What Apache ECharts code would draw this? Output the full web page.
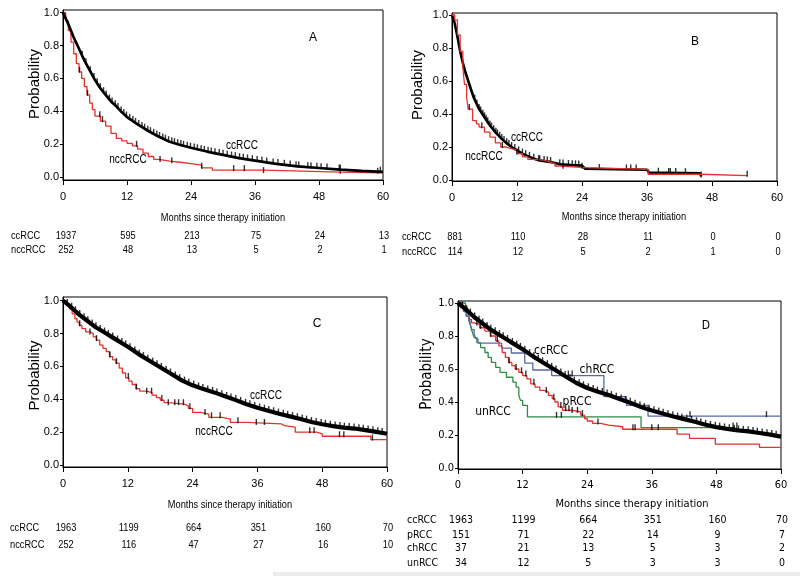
<!DOCTYPE html>
<html><head><meta charset="utf-8">
<script src="https://cdn.jsdelivr.net/npm/echarts@6/dist/echarts.min.js"></script>
<style>html,body{margin:0;padding:0;background:#fff}#c{width:800px;height:576px}</style>
</head><body><div id="c"></div>
<script>
// ---------- axis ticks ----------
const xTicks = [0, 12, 24, 36, 48, 60];
const yTicks = [0, 0.2, 0.4, 0.6, 0.8, 1.0];

// ---------- Panel A ----------
const A_cc = [[0,1],[1,0.93],[2,0.85],[3,0.78],[4,0.71],[5,0.65],[6,0.59],[7,0.54],[8,0.5],[9,0.46],[10,0.43],[11,0.395],[12,0.365],[14,0.32],[16,0.28],[18,0.245],[20,0.215],[22,0.195],[24,0.178],[27,0.155],[30,0.135],[33,0.115],[36,0.1],[40,0.08],[44,0.065],[48,0.055],[52,0.045],[56,0.037],[60,0.032]];
const A_ncc = [[0,1],[0.5,0.95],[1,0.89],[1.5,0.82],[2,0.75],[2.5,0.69],[3,0.64],[3.5,0.6],[4,0.55],[4.5,0.5],[5,0.45],[5.5,0.41],[6,0.37],[7,0.34],[8,0.31],[9,0.265],[10,0.235],[11,0.22],[12,0.205],[13,0.19],[14,0.17],[15,0.145],[16,0.125],[17,0.108],[18,0.097],[20,0.09],[22,0.082],[24,0.072],[26,0.056],[28,0.042],[37.6,0.03],[52,0.026],[60,0.026]];
const A_cc_cens = [3.6,4.3,5.1,5.8,6.4,7.0,7.6,8.1,8.7,9.2,9.8,10.3,10.9,11.4,11.9,12.5,13.1,13.6,14.2,14.8,15.3,15.9,16.4,17.0,17.6,18.1,18.7,19.2,19.8,20.4,20.9,21.5,22.1,22.6,23.3,23.9,24.6,25.2,25.9,26.5,27.2,27.8,28.5,29.3,30.0,30.8,31.6,32.3,33.1,33.8,34.6,35.5,36.4,37.3,38.2,39.4,40.3,41.5,42.6,43.7,44.2,45.9,46.5,47.6,48.4,49.5,51.8,52.0,59.5];
const A_ncc_cens = [3.1,4.6,6.9,7.4,13.8,18.2,20.4,26,32,34,37.6,52,59];
const A_risk_cc = [1937, 595, 213, 75, 24, 13];
const A_risk_ncc = [252, 48, 13, 5, 2, 1];

// ---------- Panel B ----------
const B_cc = [[0,1],[0.5,0.95],[1,0.87],[1.5,0.78],[2,0.71],[2.5,0.65],[3,0.6],[3.5,0.55],[4,0.5],[5,0.43],[6,0.38],[7,0.33],[8,0.29],[9,0.255],[10,0.225],[11,0.2],[12,0.18],[13,0.16],[14,0.145],[15,0.13],[16,0.12],[18,0.11],[20,0.095],[22,0.09],[24,0.087],[24.6,0.068],[36,0.062],[36.4,0.045],[45.8,0.04],[46,0.022]];
const B_ncc = [[0,1],[0.5,0.97],[1,0.88],[1.5,0.78],[2,0.68],[2.3,0.58],[2.7,0.5],[3,0.43],[3.8,0.36],[4.5,0.34],[5,0.32],[6,0.29],[7,0.26],[8,0.225],[9,0.2],[10,0.19],[11,0.18],[12,0.16],[13,0.14],[14,0.125],[15,0.12],[17,0.11],[18,0.1],[19,0.085],[20,0.075],[24.5,0.065],[36.2,0.035],[46,0.026],[54.5,0.026]];
const B_cc_cens = [4.2,4.6,5,5.3,5.7,6,6.3,6.6,7,7.3,7.7,8.1,8.4,8.8,9.2,9.6,10.1,10.5,11,11.6,12.3,13,13.6,14.3,15.1,16.2,17,17.6,18.2,19.9,20.5,21.5,22.2,22.8,23.4,27.2,32.2,33,34,38.1,40,40.3,41.3,43.1,46];
const B_ncc_cens = [3.2,5.5,9.3,12,16,20.5,24,54.5];
const B_risk_cc = [881, 110, 28, 11, 0, 0];
const B_risk_ncc = [114, 12, 5, 2, 1, 0];

// ---------- Panel C / D (ccRCC full cohort) ----------
const C_cc = [[0,1],[1,0.975],[2,0.945],[3,0.915],[4,0.89],[5,0.865],[6,0.84],[7,0.82],[8,0.8],[9,0.78],[10,0.76],[11,0.74],[12,0.72],[14,0.675],[16,0.635],[18,0.595],[20,0.555],[22,0.515],[24,0.485],[26,0.462],[28,0.442],[30,0.418],[32,0.395],[34,0.37],[36,0.348],[38,0.33],[40,0.312],[42,0.296],[44,0.28],[46,0.262],[48,0.248],[50,0.237],[52,0.228],[54,0.222],[56,0.212],[58,0.202],[60,0.19]];
const C_cc_cens = [0.8,1.6,2.3,3.1,3.9,4.6,5.4,6.1,6.9,7.7,8.4,9.2,10.1,10.9,11.6,12.4,13.3,14.1,14.9,15.7,16.6,17.4,18.2,19.1,19.9,20.8,21.6,22.5,23.3,24.2,25.1,25.9,26.8,27.7,28.5,29.4,30.3,31.1,32.0,32.9,33.8,34.6,35.5,36.4,37.3,38.1,39.0,39.9,40.8,41.6,42.5,43.4,44.3,45.1,46.0,46.9,47.8,48.6,49.5,50.4,51.3,52.1,53.0,53.9,54.8,55.6,56.5,57.4,58.3,59.1];
const C_ncc = [[0,1],[0.7,0.97],[1.2,0.95],[1.7,0.92],[2.2,0.89],[2.6,0.87],[3,0.85],[3.5,0.83],[4.2,0.81],[5,0.8],[5.6,0.78],[6.2,0.76],[6.8,0.73],[7.4,0.71],[8,0.69],[8.6,0.66],[9.2,0.64],[9.8,0.62],[10.4,0.59],[11,0.56],[11.6,0.53],[12.2,0.51],[12.8,0.49],[13.5,0.465],[14.2,0.45],[15.5,0.44],[16.5,0.425],[17.3,0.41],[18,0.395],[18.7,0.38],[19.5,0.37],[22.5,0.36],[23.2,0.345],[24,0.32],[25.5,0.31],[27,0.29],[29.5,0.28],[31,0.26],[34,0.25],[40.5,0.24],[41,0.23],[43,0.2],[47,0.19],[48,0.175],[57,0.155],[60,0.155]];
const C_ncc_cens = [3.1,5,6.2,8.7,9.9,12.1,13.6,15.5,16.4,18.3,19.5,20.7,21.4,22.3,23.5,26.3,27.5,29.1,32.4,35.8,37.3,45.7,46.5,51.2,52,57.3];
const C_risk_cc = [1963, 1199, 664, 351, 160, 70];
const C_risk_ncc = [252, 116, 47, 27, 16, 10];

// ---------- Panel D ----------
const D_p = [[0,1],[0.5,0.97],[1,0.95],[1.5,0.92],[2,0.9],[2.5,0.88],[3,0.87],[4,0.85],[5,0.83],[6,0.8],[7,0.77],[7.6,0.74],[8.2,0.7],[8.8,0.67],[9.4,0.64],[10,0.62],[10.6,0.6],[11.3,0.58],[12,0.56],[12.8,0.54],[13.5,0.51],[14.3,0.49],[15.2,0.47],[16,0.46],[16.8,0.44],[17.5,0.42],[18,0.4],[18.6,0.37],[19.4,0.35],[21,0.34],[22.8,0.32],[23.5,0.3],[24,0.285],[25,0.27],[26.5,0.26],[28,0.25],[30.6,0.235],[40.7,0.205],[43,0.18],[47.8,0.145],[56,0.125],[60,0.125]];
const D_p_cens = [3.5,4.2,6.1,7.3,9.5,10.8,11.8,12.6,14.1,16.4,17.8,19.1,20,20.6,21.2,22.2,23.1,26,32.5,32.9,36,37.2];
const D_ch = [[0,1],[0.6,0.973],[1.2,0.946],[1.6,0.919],[2,0.892],[2.3,0.865],[2.6,0.838],[3,0.811],[3.3,0.784],[3.7,0.757],[8.1,0.727],[9.9,0.697],[12.4,0.636],[13.9,0.594],[17.4,0.56],[27.1,0.432],[31.3,0.38],[35.3,0.314],[60,0.314]];
const D_ch_cens = [20.5,21.2,43.1,57.3];
const D_un = [[0,1],[1.4,0.97],[1.8,0.94],[2.1,0.91],[2.4,0.85],[2.7,0.82],[3,0.79],[3.5,0.76],[4.2,0.73],[5,0.7],[5.6,0.67],[6.2,0.64],[7,0.61],[7.8,0.58],[9,0.55],[10.2,0.52],[10.8,0.49],[11.3,0.44],[11.6,0.41],[12,0.38],[12.9,0.31],[34,0.245],[51.5,0.245]];
const D_un_cens = [18.3,19.2,51.1,51.8];
const D_risk_cc = [1963, 1199, 664, 351, 160, 70];
const D_risk_p = [151, 71, 22, 14, 9, 7];
const D_risk_ch = [37, 21, 13, 5, 3, 2];
const D_risk_un = [34, 12, 5, 3, 3, 0];

// ---------- styling ----------
const REG = '"Liberation Sans",Arial,sans-serif';
const COND = '"DejaVu Sans Condensed","DejaVu Sans",sans-serif';
const RED = '#e5322d', BLUE = '#5868a8', GREEN = '#2e8a44', BLACK = '#000';

const panels = [
  { grid:{left:63, top:10, width:320, height:170}, ymin:-0.018, ymax:1.016, font:REG, fs:11, sx:0.84,
    curves:[{d:A_ncc,c:RED,w:1.3,step:true,cens:A_ncc_cens},{d:A_cc,c:BLACK,w:2.7,step:false,cens:A_cc_cens}],
    letter:['A',313,38], labels:[['ccRCC',242,145.5],['nccRCC',128,160]], lfs:12,
    title:[223,217.5], prob:[35,84],
    risk:{x:11, ys:[235.5,250], rows:[['ccRCC',A_risk_cc],['nccRCC',A_risk_ncc]], fs:11} },
  { grid:{left:452, top:13, width:325, height:168}, ymin:-0.006, ymax:1.012, font:REG, fs:11, sx:0.84,
    curves:[{d:B_cc,c:BLACK,w:2.6,step:false,cens:B_cc_cens},{d:B_ncc,c:RED,w:1.3,step:true,cens:B_ncc_cens}],
    letter:['B',695,42], labels:[['ccRCC',527,137.5],['nccRCC',484,156.5]], lfs:12,
    title:[624,217], prob:[418,85],
    risk:{x:402, ys:[237,252], rows:[['ccRCC',B_risk_cc],['nccRCC',B_risk_ncc]], fs:11} },
  { grid:{left:63, top:297, width:324, height:170}, ymin:-0.012, ymax:1.0225, font:REG, fs:11, sx:0.84,
    curves:[{d:C_ncc,c:RED,w:1.3,step:true,cens:C_ncc_cens},{d:C_cc,c:BLACK,w:4.2,step:false,cens:C_cc_cens}],
    letter:['C',317,323.5], labels:[['ccRCC',266,395.5],['nccRCC',214,431.5]], lfs:12,
    title:[230,505], prob:[35,375.5],
    risk:{x:10, ys:[528,545], rows:[['ccRCC',C_risk_cc],['nccRCC',C_risk_ncc]], fs:11} },
  { grid:{left:458, top:301, width:323, height:168}, ymin:-0.006, ymax:1.012, font:COND, fs:11, sx:1,
    curves:[{d:D_un,c:GREEN,w:1.3,step:true,cens:D_un_cens},{d:D_p,c:RED,w:1.3,step:true,cens:D_p_cens},
            {d:D_ch,c:BLUE,w:1.3,step:true,cens:D_ch_cens},{d:C_cc,c:BLACK,w:4.2,step:false,cens:C_cc_cens}],
    letter:['D',706,326], labels:[['ccRCC',551,351],['chRCC',597,370],['pRCC',577,401.5],['unRCC',493,411.5]], lfs:12,
    title:[632,504], prob:[427,374],
    risk:{x:407, ys:[520,535,548.5,563], rows:[['ccRCC',D_risk_cc],['pRCC',D_risk_p],['chRCC',D_risk_ch],['unRCC',D_risk_un]], fs:10.5} }
];

function survAt(curve, t, step) {
  if (step) { let s = curve[0][1]; for (const p of curve) if (p[0] <= t) s = p[1]; return s; }
  for (let i = 1; i < curve.length; i++) {
    if (curve[i][0] >= t) {
      const a = curve[i-1], b = curve[i];
      return a[1] + (b[1]-a[1]) * (t - a[0]) / (b[0] - a[0]);
    }
  }
  return curve[curve.length-1][1];
}

const grids = [], xAxes = [], yAxes = [], series = [];
panels.forEach((p, gi) => {
  grids.push(Object.assign({show:true, borderColor:'#000', borderWidth:1, backgroundColor:'transparent'}, p.grid));
  xAxes.push({type:'value', gridIndex:gi, min:0, max:60, interval:12,
    axisLine:{show:true, onZero:false, lineStyle:{color:'#000', width:1}},
    axisTick:{show:true, length:5, lineStyle:{color:'#000'}},
    axisLabel:{color:'#000', fontSize:p.fs, fontFamily:p.font, margin:11},
    splitLine:{show:false}});
  yAxes.push({type:'value', gridIndex:gi, min:p.ymin, max:p.ymax,
    axisLine:{show:true, onZero:false, lineStyle:{color:'#000', width:1}},
    axisTick:{show:true, length:3, customValues:yTicks, lineStyle:{color:'#000'}},
    axisLabel:{customValues:yTicks, formatter:(v)=>Number(v).toFixed(1), color:'#000', fontSize:p.fs, fontFamily:p.font, margin:4},
    splitLine:{show:false}});
  p.curves.forEach((cv, k) => {
    series.push({type:'line', xAxisIndex:gi, yAxisIndex:gi, data:cv.d, step:cv.step ? 'end' : false,
      showSymbol:false, symbol:'none', silent:true, animation:false, clip:true, z:2+k,
      lineStyle:{color:cv.c, width:cv.w}, itemStyle:{color:cv.c}});
    series.push({type:'scatter', xAxisIndex:gi, yAxisIndex:gi, silent:true, animation:false, z:2+k,
      data:cv.cens.map(t => [t, survAt(cv.d, t, cv.step)]),
      symbol:'rect', symbolSize:[1.4, 6], symbolOffset:[0, -2], itemStyle:{color:'#000'}});
  });
});

const chart = echarts.init(document.getElementById('c'), null, {renderer:'canvas'});
chart.setOption({animation:false, grid:grids, xAxis:xAxes, yAxis:yAxes, series:series});

const graphic = [];
function txt(text, x, y, size, family, align, sx, rot) {
  const g = {type:'text', x:x, y:y, silent:true, scaleX:sx || 1,
    style:{text:text, fontSize:size, fontFamily:family, fill:'#000', align:align || 'center', verticalAlign:'middle'}};
  if (rot) { g.rotation = rot; g.scaleX = 1; }
  graphic.push(g);
}
panels.forEach((p, gi) => {
  txt(p.letter[0], p.letter[1], p.letter[2], 12, gi === 3 ? COND : REG, 'center', 1);
  p.labels.forEach(l => txt(l[0], l[1], l[2], p.lfs, p.font, 'center', p.sx));
  txt('Months since therapy initiation', p.title[0], p.title[1], p.fs, p.font, 'center', p.sx);
  txt('Probability', p.prob[0], p.prob[1], 15, gi === 3 ? COND : REG, 'center', 1, Math.PI/2);
  p.risk.rows.forEach((row, ri) => {
    const y = p.risk.ys[ri];
    txt(row[0], p.risk.x, y, p.risk.fs, p.font, 'left', p.sx);
    row[1].forEach((v, ci) => {
      const px = chart.convertToPixel({xAxisIndex:gi}, xTicks[ci]) + (ci === 0 ? 3 : 1);
      txt(String(v), px, y, p.risk.fs, p.font, 'center', p.sx);
    });
  });
});
graphic.push({type:'rect', shape:{x:273, y:572, width:527, height:4}, style:{fill:'#ececec'}, silent:true, z:-1});
chart.setOption({graphic:graphic});
</script>
</body></html>
